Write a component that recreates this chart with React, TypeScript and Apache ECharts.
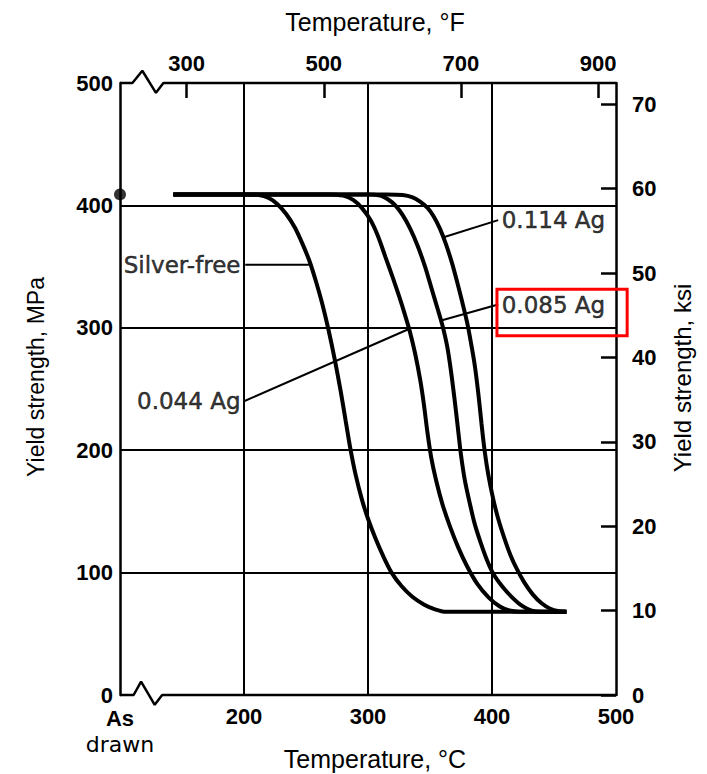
import React, { useEffect, useRef } from "react";
import * as echarts from "echarts";

// ---- axes / ticks ----
const tempCMin = 100; // left edge labelled "As drawn"
const tempCMax = 500;
const tempCInterval = 100;
const mpaMin = 0;
const mpaMax = 500;
const mpaInterval = 100;
const ksiTicks = [0, 10, 20, 30, 40, 50, 60, 70];
const ksiMax = 500 / 6.894757; // same span as 500 MPa
const tempFTicks = [300, 500, 700, 900];
const tempFMin = 203;
const tempFMax = 926;

// ---- curves: [temperature °C, yield strength MPa] ----
const silverFree: [number, number][] = [
  [143, 409], [200, 409], [212, 408.5], [220, 406], [227, 401], [234, 393], [241, 382],
  [247, 369], [253, 354], [258, 338], [263, 320], [268, 299], [273, 275], [278, 248],
  [282, 224], [286, 200], [290, 180], [295, 160], [300, 144], [306, 128], [312, 114],
  [319, 100], [327, 89], [336, 80], [345, 74], [354, 70], [363, 68], [460, 68],
];
const ag044: [number, number][] = [
  [143, 409], [268, 409], [280, 408], [288, 404.5], [295, 398], [302, 388], [308, 375],
  [314, 358], [320, 341], [325, 326], [330, 310], [334, 296], [338, 279], [342, 258],
  [345, 238], [348, 214], [351, 194], [355, 175], [360, 156], [366, 138], [373, 120],
  [380, 105], [388, 91], [397, 80], [406, 72.5], [414, 69], [422, 68], [460, 68],
];
const ag085: [number, number][] = [
  [143, 409], [300, 409], [310, 408], [316, 405], [322, 400], [328, 392], [334, 381],
  [340, 367], [346, 350], [351, 333], [356, 316], [360, 302], [364, 284], [367, 264],
  [370, 240], [372.5, 218], [375, 196], [378, 176], [382, 157], [386, 140], [391, 124],
  [396, 110], [401, 99], [408, 89], [416, 80], [424, 73], [432, 69], [440, 68], [460, 68],
];
const ag114: [number, number][] = [
  [143, 409], [315, 409], [328, 408.5], [336, 406.5], [342, 403], [348, 398], [353, 391],
  [358, 381], [363, 368], [368, 352], [372, 337], [376, 321], [380, 304], [383, 288],
  [386, 270], [389, 246], [391.5, 222], [394, 200], [397, 180], [401, 160], [405, 144],
  [410, 128], [415, 114], [420, 103], [426, 92], [433, 82], [440, 75], [447, 70.5],
  [454, 68.5], [460, 68],
];
const asDrawnPoint: [number, number][] = [[100, 409]];

// ---- frame edges with axis-break zigzags ----
const frameTop: [number, number][] = [[100, 500], [110, 500], [118, 510], [129, 492], [135, 500], [500, 500]];
const frameBottom: [number, number][] = [[100, 0], [111, 0], [117, 11], [128, -8], [134, 0], [500, 0]];

// ---- annotations ----
const noteTexts = ["Silver-free", "0.044 Ag", "0.114 Ag", "0.085 Ag"];
const noteAnchors: [number, number][] = [[200, 351.6], [200, 240], [405, 388], [405, 319]];
const noteSides = ["left", "left", "right", "right"];
const leaders: [number, number][][] = [
  [[201, 351.6], [254, 351.6]],
  [[200, 240], [333, 299]],
  [[405, 388], [361, 374]],
  [[405, 319], [359, 306]],
];
const highlightBox: [number, number][] = [[404, 331.5], [509, 293.5]];

const FONT_TICK = "'Liberation Sans', Arial, sans-serif";
const FONT_TEXT = "'Liberation Sans', Arial, sans-serif";
const FONT_NOTE = "'DejaVu Sans', sans-serif";

export default function App() {
  const ref = useRef<HTMLDivElement>(null);

  useEffect(() => {
    document.body.style.margin = "0";
    if (!ref.current) return;
    const chart = echarts.init(ref.current, null, { renderer: "svg" });

    const curve = (name: string, data: [number, number][]) => ({
      name,
      type: "line",
      data,
      smooth: 0.3,
      symbol: "none",
      clip: false,
      silent: true,
      lineStyle: { color: "#000", width: 4 },
      z: 4,
    });
    const plain = (data: [number, number][], width: number) => ({
      type: "line",
      data,
      symbol: "none",
      clip: false,
      silent: true,
      lineStyle: { color: "#000", width },
      z: 3,
    });

    const tickLabel = { fontFamily: FONT_TICK, fontWeight: "bold", fontSize: 22, color: "#000" };

    const option: any = {
      animation: false,
      backgroundColor: "#fff",
      grid: { left: 120, right: 91, top: 83, bottom: 79, containLabel: false },
      xAxis: [
        {
          type: "value",
          position: "bottom",
          min: tempCMin,
          max: tempCMax,
          interval: tempCInterval,
          axisLine: { show: false, onZero: false },
          axisTick: { show: false },
          splitLine: { show: true, showMinLine: false, showMaxLine: false, lineStyle: { color: "#000", width: 2 } },
          axisLabel: {
            ...tickLabel,
            margin: 10,
            formatter: (v: number) => (v === tempCMin ? "{a|As}\n{b|drawn}" : String(v)),
            rich: {
              a: { fontFamily: FONT_TICK, fontWeight: "bold", fontSize: 22, lineHeight: 26, color: "#000" },
              b: { fontFamily: FONT_NOTE, fontWeight: "normal", fontSize: 22, lineHeight: 26, color: "#000" },
            },
          },
        },
        {
          type: "value",
          position: "top",
          min: tempFMin,
          max: tempFMax,
          axisLine: { show: false, onZero: false },
          axisTick: { show: true, inside: true, length: 15, customValues: tempFTicks, lineStyle: { color: "#000", width: 2.5 } },
          splitLine: { show: false },
          axisLabel: { ...tickLabel, margin: 9, customValues: tempFTicks },
        },
      ],
      yAxis: [
        {
          type: "value",
          position: "left",
          min: mpaMin,
          max: mpaMax,
          interval: mpaInterval,
          axisLine: { show: true, onZero: false, lineStyle: { color: "#000", width: 2.5 } },
          axisTick: { show: false },
          splitLine: { show: true, showMinLine: false, showMaxLine: false, lineStyle: { color: "#000", width: 2 } },
          axisLabel: { ...tickLabel, margin: 7, lineHeight: 18 },
        },
        {
          type: "value",
          position: "right",
          min: 0,
          max: ksiMax,
          axisLine: { show: true, onZero: false, lineStyle: { color: "#000", width: 2.5 } },
          axisTick: { show: true, inside: true, length: 15, customValues: ksiTicks, lineStyle: { color: "#000", width: 2.5 } },
          splitLine: { show: false },
          axisLabel: { ...tickLabel, margin: 16, customValues: ksiTicks },
        },
      ],
      series: [
        plain(frameTop, 2.5),
        plain(frameBottom, 2.5),
        curve("Silver-free", silverFree),
        curve("0.044 Ag", ag044),
        curve("0.085 Ag", ag085),
        curve("0.114 Ag", ag114),
        ...leaders.map((l) => plain(l, 2)),
        {
          type: "scatter",
          data: asDrawnPoint,
          symbolSize: 12,
          clip: false,
          silent: true,
          itemStyle: { color: "#000" },
          z: 5,
        },
        {
          type: "scatter",
          symbolSize: 1,
          clip: false,
          silent: true,
          itemStyle: { color: "rgba(0,0,0,0)" },
          data: noteTexts.map((t, i) => ({
            name: t,
            value: noteAnchors[i],
            label: { show: true, position: noteSides[i], distance: 3 },
          })),
          label: {
            show: true,
            formatter: "{b}",
            fontFamily: FONT_NOTE,
            fontSize: 23,
            color: "#000",
            textBorderColor: "#000",
            textBorderWidth: 0.5,
          },
          z: 6,
        },
      ],
      graphic: [
        {
          type: "text",
          x: 375,
          y: 22,
          style: { text: "Temperature, °F", font: `25px ${FONT_TEXT}`, fill: "#000", align: "center", verticalAlign: "middle" },
        },
        {
          type: "text",
          x: 375,
          y: 759,
          style: { text: "Temperature, °C", font: `25px ${FONT_TEXT}`, fill: "#000", align: "center", verticalAlign: "middle" },
        },
        {
          type: "text",
          x: 36,
          y: 377,
          rotation: Math.PI / 2,
          style: { text: "Yield strength, MPa", font: `23px ${FONT_TEXT}`, fill: "#000", align: "center", verticalAlign: "middle" },
        },
        {
          type: "text",
          x: 682,
          y: 378,
          rotation: Math.PI / 2,
          style: { text: "Yield strength, ksi", font: `24px ${FONT_TEXT}`, fill: "#000", align: "center", verticalAlign: "middle" },
        },
      ],
    };

    chart.setOption(option);

    const p0 = chart.convertToPixel({ seriesIndex: 2 }, highlightBox[0]) as number[];
    const p1 = chart.convertToPixel({ seriesIndex: 2 }, highlightBox[1]) as number[];
    if (p0 && p1) {
      chart.setOption({
        graphic: [
          ...option.graphic,
          {
            type: "rect",
            shape: { x: p0[0], y: p0[1], width: p1[0] - p0[0], height: p1[1] - p0[1] },
            style: { fill: "none", stroke: "#f00", lineWidth: 3 },
            z: 10,
          },
        ],
      });
    }

    return () => chart.dispose();
  }, []);

  return <div ref={ref} style={{ width: 707, height: 774 }} />;
}
